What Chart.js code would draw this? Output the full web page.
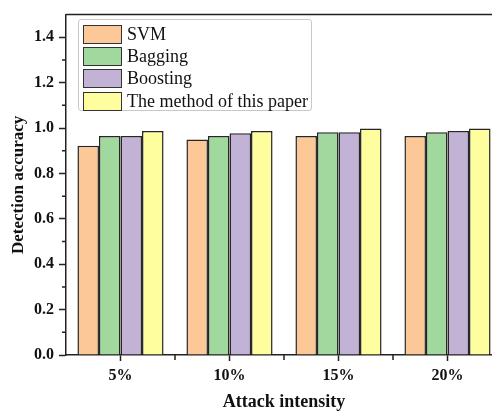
<!DOCTYPE html>
<html lang="en">
<head>
    <meta charset="UTF-8">
    <title>Detection accuracy vs attack intensity</title>
    <script src="https://cdn.jsdelivr.net/npm/chart.js"></script>
    <style>
        body { margin: 0; overflow: hidden; background: #fff; }
        #wrap { position: relative; width: 510px; height: 415px; }
        #legend {
            position: absolute; left: 78px; top: 19px; width: 234px; height: 92px;
            border: 1px solid #c8c8c8; border-radius: 3px; background: #fff;
            padding: 3px 0 0 4px; box-sizing: border-box;
            font-family: "Liberation Serif", serif; font-size: 18px; color: #111;
        }
        .item { display: flex; align-items: center; height: 22.3px; }
        .sw { width: 37px; height: 17px; border: 1.5px solid #333; margin-right: 5px; }
    </style>
</head>
<body>
    <div id="wrap">
        <canvas id="chart" width="510" height="415"></canvas>
        <div id="legend"></div>
    </div>

    <script>
        const categories = ['5%', '10%', '15%', '20%'];
        const seriesNames = ['SVM', 'Bagging', 'Boosting', 'The method of this paper'];
        const svm      = [0.922, 0.950, 0.965, 0.965];
        const bagging  = [0.965, 0.965, 0.982, 0.982];
        const boosting = [0.965, 0.977, 0.982, 0.987];
        const ours     = [0.987, 0.987, 0.998, 0.998];
        const yTicks = [0, 0.2, 0.4, 0.6, 0.8, 1.0, 1.2, 1.4];
        const yMinor = [0.1, 0.3, 0.5, 0.7, 0.9, 1.1, 1.3];

        const colors = ['#fdc897', '#a0d89e', '#c2b2d6', '#fefe9e'];
        const axisColor = '#222';
        const serif = '"Liberation Serif", "Times New Roman", serif';

        // legend built from the same names/colours
        const legend = document.getElementById('legend');
        seriesNames.forEach((name, i) => {
            const row = document.createElement('div');
            row.className = 'item';
            row.innerHTML = `<div class="sw" style="background:${colors[i]}"></div><span>${name}</span>`;
            legend.appendChild(row);
        });

        // top frame line + minor ticks
        const extras = {
            id: 'extras',
            afterDraw(chart) {
                const { ctx, chartArea: a, scales: { x, y } } = chart;
                ctx.save();
                ctx.strokeStyle = axisColor;
                ctx.lineWidth = 1.5;
                ctx.beginPath();
                ctx.moveTo(a.left, a.top);
                ctx.lineTo(a.right, a.top);
                yMinor.forEach(v => {
                    const p = y.getPixelForValue(v);
                    ctx.moveTo(a.left - 4, p);
                    ctx.lineTo(a.left, p);
                });
                for (let i = 0; i < categories.length - 1; i++) {
                    const p = (x.getPixelForValue(i) + x.getPixelForValue(i + 1)) / 2;
                    ctx.moveTo(p, a.bottom);
                    ctx.lineTo(p, a.bottom + 5);
                }
                ctx.stroke();
                ctx.restore();
            }
        };

        const ctx = document.getElementById('chart').getContext('2d');
        new Chart(ctx, {
            type: 'bar',
            data: {
                labels: categories,
                datasets: [svm, bagging, boosting, ours].map((d, i) => ({
                    label: seriesNames[i],
                    data: d,
                    backgroundColor: colors[i],
                    borderColor: '#262626',
                    borderWidth: 1.5,
                    barPercentage: 1,
                    categoryPercentage: 0.79
                }))
            },
            options: {
                responsive: false,
                animation: false,
                layout: { padding: { top: 8, right: 8, left: 0, bottom: 0 } },
                plugins: { legend: { display: false }, tooltip: { enabled: false } },
                scales: {
                    x: {
                        offset: true,
                        grid: { offset: false, drawOnChartArea: false, tickLength: 6, tickColor: axisColor, tickWidth: 1.5 },
                        border: { color: axisColor, width: 1.5 },
                        ticks: { color: '#111', padding: 5, font: { family: serif, size: 16, weight: 'bold' } },
                        title: { display: true, text: 'Attack intensity', color: '#111', padding: { top: 0, bottom: 2 },
                                 font: { family: serif, size: 18, weight: 'bold' } },
                        afterFit: s => { s.height = 60; }
                    },
                    y: {
                        min: 0,
                        max: 1.5,
                        afterBuildTicks: s => { s.ticks = yTicks.map(v => ({ value: v })); },
                        grid: { drawOnChartArea: false, tickLength: 7, tickColor: axisColor, tickWidth: 1.5 },
                        border: { color: axisColor, width: 1.5 },
                        ticks: { color: '#111', padding: 5, callback: v => v.toFixed(1),
                                 font: { family: serif, size: 16, weight: 'bold' } },
                        title: { display: true, text: 'Detection accuracy', color: '#111', padding: { top: 8, bottom: 0 },
                                 font: { family: serif, size: 17, weight: 'bold' } },
                        afterFit: s => { s.width = 66; }
                    }
                }
            },
            plugins: [extras]
        });
    </script>
</body>
</html>
